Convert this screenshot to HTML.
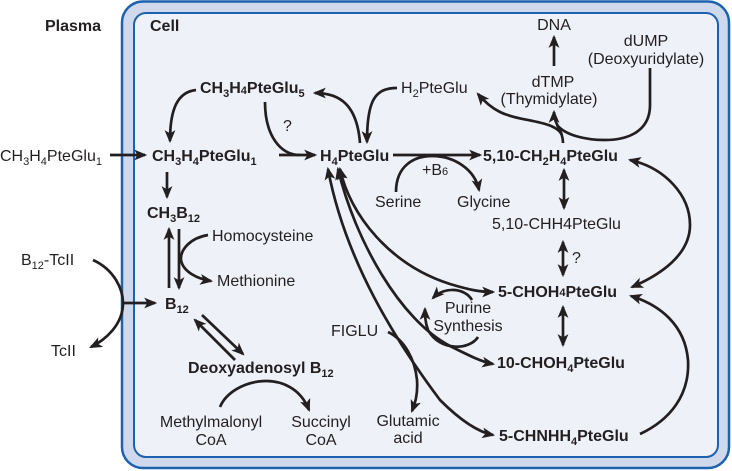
<!DOCTYPE html>
<html><head><meta charset="utf-8"><style>
html,body{margin:0;padding:0;background:#fff;}
svg{display:block;}
text{font-family:"Liberation Sans",Arial,sans-serif;font-size:16px;fill:#231f20;}
.b{font-weight:bold;}
.s{font-size:11px;}
path.l{fill:none;stroke:#231f20;stroke-width:2.7;}
</style></head><body>
<svg width="732" height="471" viewBox="0 0 732 471" xmlns="http://www.w3.org/2000/svg">
<defs>
<marker id="a" viewBox="0 0 12 10" refX="10" refY="5" markerWidth="13" markerHeight="11" markerUnits="userSpaceOnUse" orient="auto-start-reverse">
<path d="M0,0 L12,5 L0,10 L3,5 z" fill="#231f20"/>
</marker>
</defs>
<rect x="122" y="1.5" width="607" height="466.5" rx="21" fill="#d0d9ec" stroke="#1c62ae" stroke-width="2.5"/>
<rect x="134" y="13" width="584" height="444" rx="12" fill="#eef1f8" stroke="#1c62ae" stroke-width="2"/>

<!-- labels -->
<text x="45" y="31" class="b">Plasma</text>
<text x="150" y="31" class="b">Cell</text>
<text x="0" y="161">CH<tspan class="s" dy="4">3</tspan><tspan dy="-4">H</tspan><tspan class="s" dy="4">4</tspan><tspan dy="-4">PteGlu</tspan><tspan class="s" dy="4">1</tspan></text>
<text x="152" y="161" class="b">CH<tspan class="s" dy="4">3</tspan><tspan dy="-4">H</tspan><tspan class="s" dy="4">4</tspan><tspan dy="-4">PteGlu</tspan><tspan class="s" dy="4">1</tspan></text>
<text x="200" y="93" class="b">CH<tspan class="s" dy="4">3</tspan><tspan dy="-4">H</tspan><tspan class="s" dy="1">4</tspan><tspan dy="-1">PteGlu</tspan><tspan class="s" dy="4">5</tspan></text>
<text x="283" y="131" font-size="15">?</text>
<text x="320" y="161" class="b">H<tspan class="s" dy="4">4</tspan><tspan dy="-4">PteGlu</tspan></text>
<text x="401" y="93">H<tspan class="s" dy="4">2</tspan><tspan dy="-4">PteGlu</tspan></text>
<text x="483" y="161" class="b">5,10-CH<tspan class="s" dy="4">2</tspan><tspan dy="-4">H</tspan><tspan class="s" dy="4">4</tspan><tspan dy="-4">PteGlu</tspan></text>
<text x="422" y="175">+B<tspan class="s">6</tspan></text>
<text x="375" y="207">Serine</text>
<text x="457" y="207">Glycine</text>
<text x="492" y="229">5,10-CHH4PteGlu</text>
<text x="554" y="30" text-anchor="middle">DNA</text>
<text x="553" y="87" text-anchor="middle">dTMP</text>
<text x="549" y="104" text-anchor="middle">(Thymidylate)</text>
<text x="646" y="46" text-anchor="middle">dUMP</text>
<text x="646" y="64" text-anchor="middle">(Deoxyuridylate)</text>
<text x="498" y="297" class="b">5-CHOH<tspan class="s" dy="-1">4</tspan><tspan dy="1">PteGlu</tspan></text>
<text x="572" y="263" font-size="15">?</text>
<text x="497" y="368" class="b">10-CHOH<tspan class="s" dy="4">4</tspan><tspan dy="-4">PteGlu</tspan></text>
<text x="499" y="441" class="b">5-CHNHH<tspan class="s" dy="4">4</tspan><tspan dy="-4">PteGlu</tspan></text>
<text x="468" y="313" text-anchor="middle">Purine</text>
<text x="468" y="331" text-anchor="middle">Synthesis</text>
<text x="331" y="336">FIGLU</text>
<text x="408" y="426" text-anchor="middle">Glutamic</text>
<text x="408" y="443" text-anchor="middle">acid</text>
<text x="147" y="218" class="b">CH<tspan class="s" dy="4">3</tspan><tspan dy="-4">B</tspan><tspan class="s" dy="4">12</tspan></text>
<text x="212" y="241">Homocysteine</text>
<text x="217" y="286">Methionine</text>
<text x="165" y="309" class="b">B<tspan class="s" dy="4">12</tspan></text>
<text x="21" y="265">B<tspan class="s" dy="4">12</tspan><tspan dy="-4">-TcII</tspan></text>
<text x="51" y="356">TcII</text>
<text x="188" y="373" class="b">Deoxyadenosyl B<tspan class="s" dy="4">12</tspan></text>
<text x="211" y="427" text-anchor="middle">Methylmalonyl</text>
<text x="211" y="445" text-anchor="middle">CoA</text>
<text x="321" y="427" text-anchor="middle">Succinyl</text>
<text x="321" y="445" text-anchor="middle">CoA</text>

<!-- connectors -->
<path class="l" d="M110,155 L145,155" marker-end="url(#a)"/>
<path class="l" d="M196,90 C178,92 170,108 170,141" marker-end="url(#a)"/>
<path class="l" d="M279,155 L315,155" marker-end="url(#a)"/>
<path class="l" d="M265,102 C265,135 280,155 300,155"/>
<path class="l" d="M360,143 C357,105 340,93 315,93" marker-end="url(#a)"/>
<path class="l" d="M397,88 C375,88 367,100 367,142" marker-end="url(#a)"/>
<path class="l" d="M393,155 L480,155" marker-end="url(#a)"/>
<path class="l" d="M396,192 C396,165 415,156 432,156 C455,156 475,170 479,190" marker-end="url(#a)"/>
<path class="l" d="M564,170 L564,208" marker-start="url(#a)" marker-end="url(#a)"/>
<path class="l" d="M554,66 L554,37" marker-end="url(#a)"/>
<path class="l" d="M563,143 C563,130 554,125 554,112" marker-end="url(#a)"/>
<path class="l" d="M562,135 C555,120 520,122 500,112 C490,107 483,100 478,94" marker-end="url(#a)"/>
<path class="l" d="M650,68 L650,105 C650,130 630,140 605,140 C585,140 565,135 557,125"/>
<path class="l" d="M630,160 C665,168 690,195 690,225 C690,255 660,275 632,287" marker-start="url(#a)" marker-end="url(#a)"/>
<path class="l" d="M640,434 C670,420 690,395 688,360 C685,325 660,305 631,296" marker-end="url(#a)"/>
<path class="l" d="M563,242 L563,275" marker-start="url(#a)" marker-end="url(#a)"/>
<path class="l" d="M563,307 L563,345" marker-start="url(#a)" marker-end="url(#a)"/>
<path class="l" d="M340,169 C350,215 390,265 450,284 C470,290 480,292 493,292" marker-start="url(#a)" marker-end="url(#a)"/>
<path class="l" d="M338,169 C355,240 400,320 450,346 C470,356 482,362 493,364" marker-start="url(#a)" marker-end="url(#a)"/>
<path class="l" d="M328,169 C345,260 395,340 440,400 C460,420 478,432 493,435" marker-start="url(#a)" marker-end="url(#a)"/>
<path class="l" d="M472,300 C465,288 445,286 433,298" marker-end="url(#a)"/>
<path class="l" d="M478,337 C470,350 440,352 428,330 C425,322 425,315 425,309" marker-end="url(#a)"/>
<path class="l" d="M388,332 C405,340 415,360 417,380 C418,395 415,403 412,411" marker-end="url(#a)"/>
<path class="l" d="M167,172 L167,197" marker-end="url(#a)"/>
<path class="l" d="M169,288 L169,229" marker-end="url(#a)"/>
<path class="l" d="M179,229 L179,288" marker-end="url(#a)"/>
<path class="l" d="M208,235 C190,238 180,250 181,260 C183,272 198,279 211,281" marker-end="url(#a)"/>
<path class="l" d="M93,260 C115,270 123,290 123,303 C123,325 105,340 91,347" marker-end="url(#a)"/>
<path class="l" d="M123,303 L155,303" marker-end="url(#a)"/>
<path class="l" d="M235,360 L195,320" marker-end="url(#a)"/>
<path class="l" d="M202,315 L243,354" marker-end="url(#a)"/>
<path class="l" d="M220,407 C232,378 292,366 309,410" marker-end="url(#a)"/>
</svg>
</body></html>
